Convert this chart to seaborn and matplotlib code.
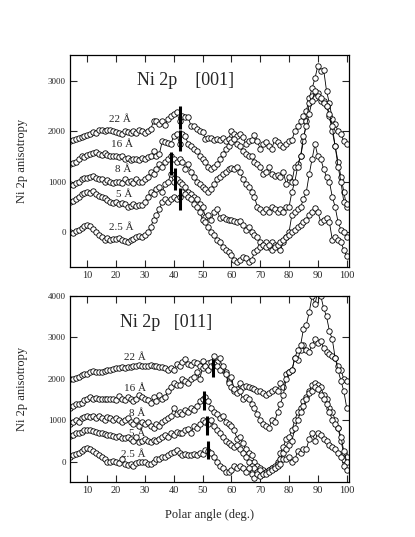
import matplotlib
matplotlib.use("Agg")
import matplotlib.pyplot as plt
import seaborn as sns
import pandas as pd

sns.set_theme(style="ticks")
plt.rcParams['font.family'] = ['Liberation Serif', 'DejaVu Serif']
plt.rcParams['mathtext.fontset'] = 'stix'

angles = [4, 5, 6, 7, 8, 9, 10, 11, 12, 13, 14, 15, 16, 17, 18, 19, 20, 21, 22, 23,
          24, 25, 26, 27, 28, 29, 30, 31, 32, 33, 34, 35, 36, 37, 38, 39, 40, 41, 42, 43,
          44, 45, 46, 47, 48, 49, 50, 51, 52, 53, 54, 55, 56, 57, 58, 59, 60, 61, 62, 63,
          64, 65, 66, 67, 68, 69, 70, 71, 72, 73, 74, 75, 76, 77, 78, 79, 80, 81, 82, 83,
          84, 85, 86, 87, 88, 89, 90, 91, 92, 93, 94, 95, 96, 97, 98, 99, 100]

thickness_labels = ["22 Å", "16 Å", "8 Å", "5 Å", "2.5 Å"]

# ---------------- Ni 2p [001] ----------------
t001_22 = [1800, 1820, 1850, 1870, 1880, 1900, 1920, 1950, 1980, 1960, 2020, 2030, 2000, 2030, 2020, 2000, 1990, 1960, 1950, 2000,
           1980, 1970, 2000, 1960, 2020, 2000, 1960, 2010, 2040, 2200, 2200, 2150, 2200, 2120, 2250, 2300, 2350, 2380, 2200, 2300,
           2280, 2280, 2100, 2100, 2050, 2000, 1980, 1850, 1870, 1860, 1830, 1840, 1830, 1870, 1800, 1850, 2000, 1950, 1900, 1950,
           1880, 1750, 1800, 1830, 1930, 1800, 1650, 1750, 1780, 1700, 1650, 1830, 1780, 1720, 1680, 1750, 1800, 1830, 2000, 2100,
           2200, 2300, 2400, 2650, 2850, 3050, 3300, 3200, 3220, 2800, 2550, 2250, 2150, 2000, 1950, 1800, 1750]
t001_16 = [1350, 1370, 1400, 1450, 1500, 1480, 1520, 1550, 1560, 1580, 1550, 1520, 1560, 1530, 1500, 1510, 1500, 1480, 1500, 1450,
           1470, 1430, 1440, 1450, 1430, 1470, 1450, 1480, 1500, 1600, 1500, 1550, 1800, 1780, 1760, 1750, 1900, 1950, 1750, 1950,
           1900, 1750, 1700, 1650, 1600, 1500, 1450, 1400, 1300, 1250, 1300, 1350, 1450, 1550, 1650, 1700, 1780, 1850, 1750, 1700,
           1600, 1550, 1500, 1500, 1400, 1350, 1300, 1150, 1200, 1300, 1150, 1120, 1130, 1100, 1200, 950, 1100, 1000, 1300, 1350,
           1500, 1800, 2200, 2550, 2700, 2650, 2750, 2600, 2600, 2500, 2300, 2000, 1700, 1400, 1100, 800, 500]
t001_8 = [950, 930, 980, 1000, 1050, 1070, 1080, 1100, 1120, 1080, 1060, 1050, 1000, 1030, 1000, 980, 1000, 1000, 980, 1050,
          1000, 1020, 980, 1050, 1000, 1000, 1050, 1100, 1200, 1150, 1250, 1350, 1300, 1400, 1450, 1500, 1450, 1400, 1450, 1400,
          1250, 1350, 1200, 1100, 1000, 950, 900, 850, 800, 850, 950, 1050, 1100, 1150, 1200, 1250, 1280, 1250, 1300, 1200,
          1050, 950, 900, 800, 700, 500, 450, 400, 450, 400, 500, 450, 400, 450, 400, 500, 500, 800, 1000, 1300,
          1500, 1900, 2100, 2350, 2600, 2800, 2700, 2650, 2550, 2500, 2350, 2100, 1700, 1300, 1000, 600, 550]
t001_5 = [600, 620, 650, 700, 750, 770, 800, 780, 820, 750, 720, 700, 680, 640, 600, 580, 600, 560, 580, 550,
          500, 520, 550, 520, 530, 540, 600, 700, 800, 750, 850, 900, 800, 950, 1000, 1150, 1000, 1050, 1000, 950,
          900, 800, 750, 700, 650, 550, 500, 300, 350, 250, 400, 450, 280, 300, 270, 250, 240, 230, 200, 220,
          150, 50, 100, 0, -50, -100, -200, -250, -200, -300, -200, -250, -300, -350, -200, -100, 0, 350, 400, 450,
          500, 650, 800, 1150, 1450, 1750, 1500, 1450, 1250, 1100, 1000, 700, 500, 200, 50, 0, -100]
t001_2p5 = [0, -20, 30, 50, 80, 130, 150, 120, 60, 0, -50, -100, -150, -120, -150, -130, -140, -110, -150, -180,
            -200, -150, -130, -100, -80, -100, -50, 0, 100, 250, 350, 450, 600, 650, 600, 650, 700, 650, 700, 800,
            750, 700, 650, 550, 500, 400, 250, 200, 100, 0, -50, -150, -200, -300, -350, -400, -450, -550, -600, -550,
            -500, -520, -600, -550, -400, -350, -300, -250, -300, -250, -350, -300, -250, -200, -150, -100, -50, 0, 50, 100,
            150, 200, 250, 350, 400, 470, 400, 200, 250, 280, 200, -150, -100, -150, -200, -350, -480]

# ---------------- Ni 2p [011] ----------------
t011_22 = [1990, 2000, 2020, 2050, 2080, 2100, 2120, 2150, 2180, 2160, 2150, 2170, 2180, 2200, 2220, 2230, 2250, 2260, 2270, 2250,
           2280, 2290, 2300, 2310, 2320, 2300, 2310, 2300, 2320, 2310, 2300, 2290, 2270, 2250, 2200, 2250, 2200, 2350, 2300, 2400,
           2480, 2350, 2330, 2400, 2380, 2300, 2420, 2300, 2380, 2400, 2550, 2400, 2500, 2200, 2150, 1950, 2050, 1700, 1750, 1900,
           1800, 1820, 1800, 1780, 1750, 1700, 1700, 1650, 1600, 1650, 1700, 1750, 1700, 1900, 1800, 2100, 2150, 2200, 2500, 2450,
           2700, 2800, 2700, 2650, 2800, 2950, 2850, 2900, 2750, 2650, 2600, 2550, 2500, 2300, 2200, 2000, 1950]
t011_16 = [1300, 1350, 1380, 1400, 1420, 1480, 1500, 1550, 1520, 1540, 1500, 1500, 1520, 1500, 1520, 1500, 1480, 1580, 1500, 1480,
           1550, 1500, 1450, 1500, 1600, 1550, 1500, 1480, 1420, 1550, 1450, 1600, 1500, 1550, 1700, 1800, 1900, 1850, 1850, 2000,
           1950, 1900, 2000, 2050, 2150, 2000, 2250, 2300, 2200, 2300, 2350, 2300, 2200, 2300, 2100, 1900, 1800, 1750, 1650, 1700,
           1500, 1550, 1500, 1400, 1300, 1150, 1000, 900, 850, 800, 1000, 950, 1200, 1400, 1600, 2000, 2150, 2200, 2500, 2700,
           2800, 3200, 3300, 3600, 4000, 3800, 4100, 4000, 3700, 3500, 3150, 2950, 2500, 2200, 1950, 1700, 1300]
t011_8 = [900, 950, 1000, 950, 1050, 1080, 1100, 1080, 1100, 1050, 1100, 1050, 1000, 1080, 1050, 1000, 1050, 1000, 950, 1000,
          1050, 950, 900, 1000, 850, 950, 900, 950, 850, 800, 900, 850, 950, 1000, 1050, 1100, 1300, 1150, 1200, 1150,
          1250, 1200, 1300, 1250, 1350, 1450, 1500, 1550, 1450, 1300, 1200, 1150, 1050, 1100, 950, 900, 850, 750, 550, 600,
          450, 300, 200, 150, 0, -100, -150, -200, -250, -200, -150, -150, 0, 200, 350, 550, 600, 750, 1000, 1200,
          1300, 1450, 1550, 1700, 1850, 1900, 1850, 1800, 1600, 1500, 1300, 1200, 1000, 800, 500, 200, 100]
t011_5 = [620, 650, 680, 700, 720, 750, 760, 750, 730, 720, 700, 680, 660, 650, 640, 620, 600, 610, 580, 560,
          600, 550, 500, 600, 480, 500, 550, 500, 480, 520, 500, 550, 600, 650, 600, 700, 650, 720, 700, 680,
          750, 780, 700, 850, 800, 900, 1000, 950, 900, 1000, 850, 750, 700, 600, 500, 450, 400, 350, 400, 300,
          200, 100, 0, -100, -150, -250, -200, -300, -250, -200, -150, -100, -50, 50, 200, 300, 400, 500, 800, 1000,
          1200, 1350, 1500, 1650, 1700, 1800, 1750, 1600, 1500, 1400, 1200, 1000, 900, 800, 600, 250, 0]
t011_2p5 = [100, 150, 180, 200, 250, 300, 320, 300, 250, 200, 150, 100, 50, 0, 0, 20, 0, -30, 50, -50,
            -80, -50, -100, -30, 0, -20, 0, -50, -50, 0, 50, 50, 100, 120, 150, 200, 230, 280, 200, 150,
            180, 150, 150, 180, 150, 200, 180, 280, 250, 200, 100, 0, -100, -150, -250, -250, -200, -100, -150, -100,
            -150, -250, -150, -300, -400, -300, -350, -300, -300, -250, -200, -150, -100, -50, 50, 50, 100, 0, 50, 250,
            200, 300, 300, 550, 700, 500, 700, 650, 550, 500, 400, 350, 300, 200, 100, -100, -200]

series_001 = [t001_22, t001_16, t001_8, t001_5, t001_2p5]
series_011 = [t011_22, t011_16, t011_8, t011_5, t011_2p5]

# marker bars: (angle, low, high)
bars_001 = [(42.3, 2050, 2490), (42.3, 1600, 2030), (39.0, 1140, 1590), (40.3, 830, 1270), (42.3, 430, 870)]
bars_011 = [(53.75, 2040, 2480), (50.5, 1235, 1690), (51.5, 645, 1090), (52.0, 65, 500)]

# label positions (angle, value)
labpos_001 = [(21.4, 2240), (21.9, 1730), (22.5, 1234), (22.8, 752), (21.9, 92)]
labpos_011 = [(26.6, 2520), (26.6, 1772), (27.4, 1168), (27.4, 685), (25.8, 160)]

W, H = 415, 537
fig = plt.figure(figsize=(W / 100, H / 100), dpi=100)
ax1 = fig.add_axes([70 / W, 1 - 267 / H, 279 / W, 212 / H])
ax2 = fig.add_axes([70 / W, 1 - 482.3 / H, 279 / W, 186.6 / H])


def draw(ax, series, bars, labpos, ylim, yticks, title, title_pos):
    for vals, lab in zip(series, thickness_labels):
        df = pd.DataFrame({"angle": angles, "value": vals})
        sns.lineplot(data=df, x="angle", y="value", ax=ax, color="black", lw=0.6,
                     marker="o", markersize=3.9, markerfacecolor="white",
                     markeredgecolor="black", markeredgewidth=0.6,
                     estimator=None, sort=False, legend=False)
    for a, lo, hi in bars:
        ax.plot([a, a], [lo, hi], color="black", lw=2.2, solid_capstyle="butt", zorder=5)
    for (a, v), lab in zip(labpos, thickness_labels):
        ax.text(a, v, lab, ha="center", va="center", fontsize=8)
    ax.text(title_pos[0], title_pos[1], title, ha="left", va="center", fontsize=13)
    ax.set_xlim(4, 100.8)
    ax.set_ylim(*ylim)
    ax.set_xticks([10, 20, 30, 40, 50, 60, 70, 80, 90, 100])
    ax.set_yticks(yticks)
    ax.tick_params(direction="in", length=5, width=0.8, top=True, right=True,
                   labelsize=7.5, pad=3)
    ax.tick_params(axis="y", labelsize=6.5)
    for s in ax.spines.values():
        s.set_linewidth(0.9)
        s.set_color("black")
    ax.set_ylabel("Ni 2p anisotropy", fontsize=9, labelpad=14)
    ax.set_xlabel("")


draw(ax1, series_001, bars_001, labpos_001, (-690, 3510), [0, 1000, 2000, 3000],
     "Ni 2p    [001]", (27.3, 3000))
draw(ax2, series_011, bars_011, labpos_011, (-500, 4000), [0, 1000, 2000, 3000, 4000],
     "Ni 2p   [011]", (21.4, 3350))
ax2.set_xlabel("Polar angle (deg.)", fontsize=9, labelpad=10)

fig.savefig("out.png", dpi=100)
